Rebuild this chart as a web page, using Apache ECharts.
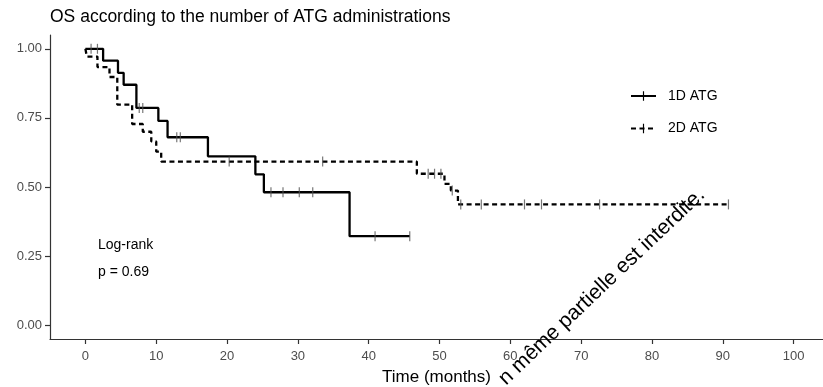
<!DOCTYPE html>
<html><head><meta charset="utf-8">
<script src="https://cdn.jsdelivr.net/npm/echarts@6/dist/echarts.min.js"></script>
<style>html,body{margin:0;padding:0;background:#fff}#c{width:823px;height:387px}</style>
</head><body><div id="c"></div>
<script>
const chartTitle = 'OS according to the number of ATG administrations';
const groups = ['1D ATG', '2D ATG'];
// 1D ATG Kaplan-Meier steps (time in months, survival)
const time1 = [0, 2.5, 4.6, 5.4, 7.2, 10.3, 11.6, 17.3, 24.0, 25.2, 37.3, 45.8];
const surv1 = [1.0, 0.957, 0.913, 0.870, 0.786, 0.739, 0.680, 0.611, 0.546, 0.481, 0.322, 0.322];
const censor1 = [0.8, 1.7, 7.6, 8.1, 12.9, 13.4, 26.2, 27.9, 30.2, 32.1, 40.9, 45.8];
// 2D ATG Kaplan-Meier steps
const time2 = [0, 0.2, 1.7, 3.4, 4.5, 6.6, 8.1, 9.3, 10.0, 10.7, 46.8, 50.7, 51.6, 52.6, 90.8];
const surv2 = [1.0, 0.972, 0.934, 0.898, 0.798, 0.728, 0.700, 0.665, 0.628, 0.592, 0.548, 0.511, 0.487, 0.437, 0.437];
const censor2 = [20.3, 33.5, 48.4, 49.3, 50.2, 51.8, 53.0, 55.9, 62.0, 64.4, 72.6, 90.8];
const xTicks = [0, 10, 20, 30, 40, 50, 60, 70, 80, 90, 100];
const yTicks = [0, 0.25, 0.5, 0.75, 1.0];
const annotations = ['Log-rank', 'p = 0.69'];
const xTitle = 'Time (months)';
const overlayText = 'n même partielle est interdite.';

const FONT = "'Liberation Sans', Arial, sans-serif";
function stepValue(times, survs, t) {
  let v = survs[0];
  for (let i = 0; i < times.length; i++) if (times[i] <= t) v = survs[i];
  return v;
}
const legendTick = 'path://M4.4,0 L5.6,0 L5.6,10 L4.4,10 Z M0,5 L0.001,5 L0.001,5.001 Z M10,5 L9.999,5 L9.999,5.001 Z';

const chart = echarts.init(document.getElementById('c'), null, {renderer: 'canvas'});
const ang = 43.5 * Math.PI / 180;
chart.setOption({
  animation: false,
  backgroundColor: '#fff',
  title: {text: chartTitle, left: 50, top: 8, padding: 0, textStyle: {fontFamily: FONT, fontSize: 17.5, fontWeight: 'normal', color: '#000'}},
  legend: {
    data: groups, orient: 'vertical', left: 630, top: 89, padding: 0, itemWidth: 25, itemHeight: 12, itemGap: 18.5,
    textStyle: {fontFamily: FONT, fontSize: 14, color: '#000', padding: [0, 0, 0, 7]},
    selectedMode: false
  },
  grid: {left: 50, top: 35, right: 0, bottom: 48, containLabel: false, outerBoundsMode: 'none'},
  xAxis: {
    type: 'value', min: -5, max: 104.15, splitLine: {show: false},
    axisLine: {onZero: false, lineStyle: {color: '#333', width: 1.2}},
    axisTick: {customValues: xTicks, length: 5, lineStyle: {color: '#333', width: 1.2}},
    axisLabel: {customValues: xTicks, color: '#4d4d4d', fontSize: 13, margin: 11, fontFamily: FONT},
    name: xTitle, nameLocation: 'middle', nameGap: 30,
    nameTextStyle: {color: '#000', fontSize: 17, fontFamily: FONT}
  },
  yAxis: {
    type: 'value', min: -0.05, max: 1.05, splitLine: {show: false},
    axisLine: {onZero: false, lineStyle: {color: '#333', width: 1.2}},
    axisTick: {customValues: yTicks, length: 5, lineStyle: {color: '#333', width: 1.2}},
    axisLabel: {customValues: yTicks, color: '#4d4d4d', fontSize: 13, margin: 8, fontFamily: FONT,
      formatter: v => Number(v).toFixed(2)}
  },
  series: [
    {type: 'line', name: groups[0], step: 'end', data: time1.map((t, i) => [t, surv1[i]]),
     showSymbol: false, symbol: legendTick, symbolSize: 10,
     lineStyle: {color: '#000', width: 2.3, type: 'solid'}, itemStyle: {color: '#000', borderWidth: 0},
     emphasis: {disabled: true}, z: 3},
    {type: 'line', name: groups[1], step: 'end', data: time2.map((t, i) => [t, surv2[i]]),
     showSymbol: false, symbol: legendTick, symbolSize: 10,
     lineStyle: {color: '#000', width: 2.3, type: [5, 3.5]}, itemStyle: {color: '#000', borderWidth: 0},
     emphasis: {disabled: true}, z: 3},
    {type: 'scatter', name: '1D censor', data: censor1.map(t => [t, stepValue(time1, surv1, t)]),
     symbol: 'rect', symbolSize: [1.2, 10], itemStyle: {color: '#555'}, emphasis: {disabled: true}, z: 4},
    {type: 'scatter', name: '2D censor', data: censor2.map(t => [t, stepValue(time2, surv2, t)]),
     symbol: 'rect', symbolSize: [1.2, 10], itemStyle: {color: '#555'}, emphasis: {disabled: true}, z: 4}
  ],
  graphic: [
    {type: 'text', x: 98, y: 245, style: {text: annotations[0], font: '14px ' + FONT, fill: '#000', verticalAlign: 'middle'}},
    {type: 'text', x: 98, y: 272.5, style: {text: annotations[1], font: '14px ' + FONT, fill: '#000', verticalAlign: 'middle'}},
    {type: 'text', x: 502, y: 381.5, rotation: ang, z: 100,
     style: {text: overlayText, font: '21px ' + FONT, fill: '#000', verticalAlign: 'middle', align: 'left'}}
  ]
});
</script>
</body></html>
